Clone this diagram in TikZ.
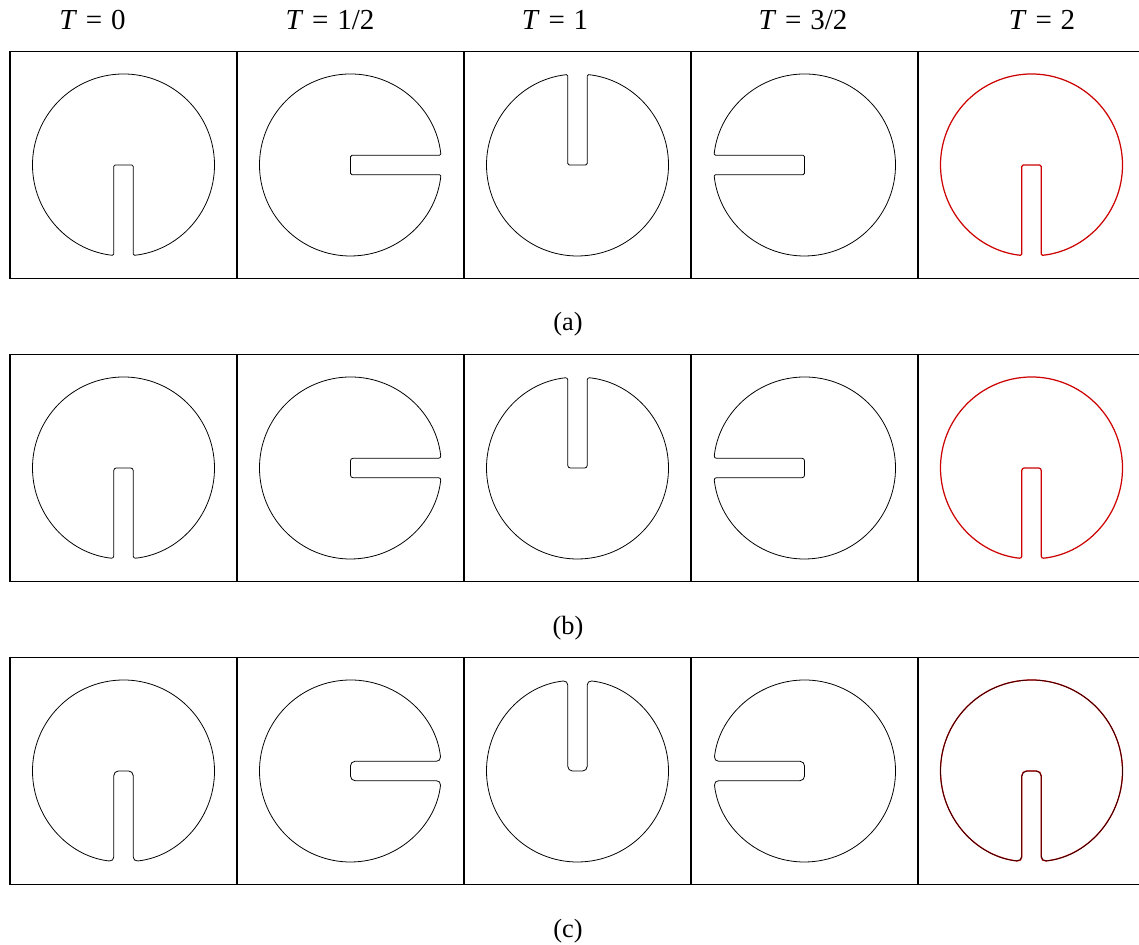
\documentclass[tikz,border=0pt]{standalone}
\usepackage{fontspec}
\setmainfont{Liberation Serif}
\usepackage{tikz}

% slotted disk, slot pointing down, centre at the origin
\newcommand{\slotdisk}{(9.7,-90.48) arc[start angle=-83.88,end angle=263.88,radius=91]
  -- (-9.7,0) -- (9.7,0) -- cycle}
\newcommand{\tval}[1]{\textit{T}\hspace{0.3em}=\hspace{0.3em}#1}

\begin{document}
\begin{tikzpicture}[x=0.02cm,y=0.02cm,
  panel/.style={draw,line width=0.85pt},
  disk/.style={draw,line width=0.45pt},
  final/.style={draw,red!80!black,line width=0.7pt},
  title/.style={anchor=base,font=\fontsize{16.5}{20}\selectfont},
  caption/.style={anchor=base,font=\fontsize{15}{18}\selectfont}]

  \useasboundingbox (0,0) rectangle (1139,945);
  \clip (0,0) rectangle (1139,945);

  % times
  \node[title] (t0) at (92.5,915) {\tval{0}};
  \node[title] (t1) at (330,915) {\tval{1/2}};
  \node[title] (t2) at (555,915) {\tval{1}};
  \node[title] (t3) at (803,915) {\tval{3/2}};
  \node[title] (t4) at (1042,915) {\tval{2}};

  \foreach \row/\top/\rc/\capy in {a/893.5/0.8pt/614, b/590.5/1.4pt/310, c/287.5/2.6pt/7}{
    \foreach \col/\ang in {0/0,1/90,2/180,3/270,4/0}{
      \draw[panel] ({10+227*\col},\top) rectangle ++(227,-227);
    }
    \foreach \col/\ang in {0/0,1/90,2/180,3/270}{
      \begin{scope}[shift={({123.5+227*\col},\top-113.5)},rotate=\ang]
        \draw[disk,rounded corners=\rc] \slotdisk;
      \end{scope}
    }
    % final state
    \begin{scope}[shift={(1031.5,\top-113.5)}]
      \draw[final,rounded corners=\rc] \slotdisk;
    \end{scope}
    \node[caption] (cap-\row) at (568,\capy) {(\row)};
  }

  % last row: computed contour over the exact one
  \begin{scope}[shift={(1031.5,174)}]
    \draw[disk,black!80!red,rounded corners=3pt] \slotdisk;
  \end{scope}
\end{tikzpicture}
\end{document}
